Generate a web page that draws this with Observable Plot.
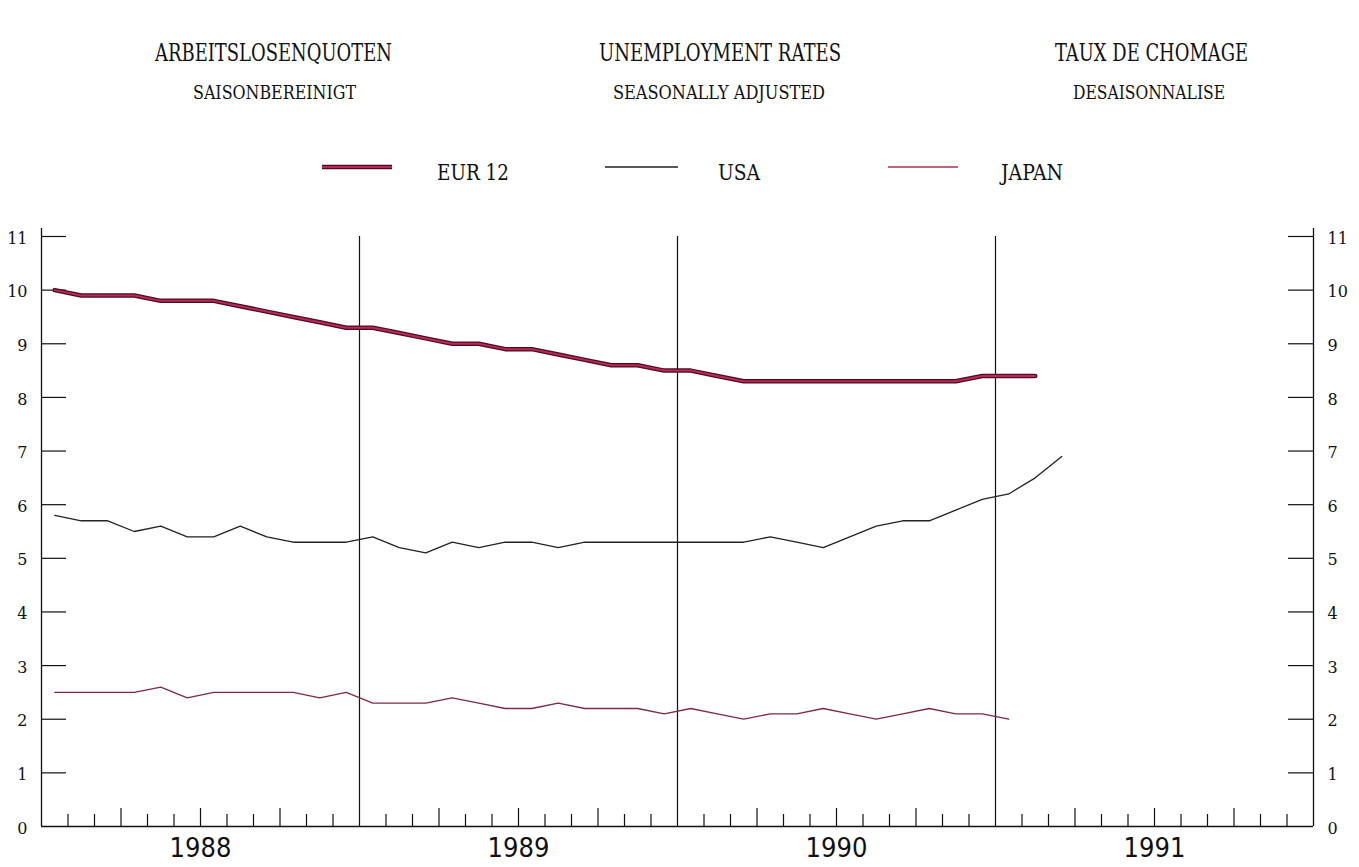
<!DOCTYPE html>
<html><head><meta charset="utf-8">
<script src="https://cdn.jsdelivr.net/npm/d3@7"></script>
<script src="https://cdn.jsdelivr.net/npm/@observablehq/plot@0.6"></script>
<style>body{margin:0;background:#fff} svg{display:block}</style>
</head><body><div id="chart"></div>
<script>
// ---- data (monthly, seasonally adjusted unemployment rates, %) ----
const startYear = 1988;
const years = [1988, 1989, 1990, 1991];
const yTicks = [0, 1, 2, 3, 4, 5, 6, 7, 8, 9, 10, 11];
const seriesNames = ["EUR 12", "USA", "JAPAN"];
const titles = ["ARBEITSLOSENQUOTEN", "UNEMPLOYMENT RATES", "TAUX DE CHOMAGE"];
const subtitles = ["SAISONBEREINIGT", "SEASONALLY ADJUSTED", "DESAISONNALISE"];
// Jan 1988 ... Feb 1991
const eur12 = [10.0, 9.9, 9.9, 9.9, 9.8, 9.8, 9.8, 9.7, 9.6, 9.5, 9.4, 9.3,
               9.3, 9.2, 9.1, 9.0, 9.0, 8.9, 8.9, 8.8, 8.7, 8.6, 8.6, 8.5,
               8.5, 8.4, 8.3, 8.3, 8.3, 8.3, 8.3, 8.3, 8.3, 8.3, 8.3, 8.4,
               8.4, 8.4];
// Jan 1988 ... Mar 1991
const usa = [5.8, 5.7, 5.7, 5.5, 5.6, 5.4, 5.4, 5.6, 5.4, 5.3, 5.3, 5.3,
             5.4, 5.2, 5.1, 5.3, 5.2, 5.3, 5.3, 5.2, 5.3, 5.3, 5.3, 5.3,
             5.3, 5.3, 5.3, 5.4, 5.3, 5.2, 5.4, 5.6, 5.7, 5.7, 5.9, 6.1,
             6.2, 6.5, 6.9];
// Jan 1988 ... Jan 1991
const japan = [2.5, 2.5, 2.5, 2.5, 2.6, 2.4, 2.5, 2.5, 2.5, 2.5, 2.4, 2.5,
               2.3, 2.3, 2.3, 2.4, 2.3, 2.2, 2.2, 2.3, 2.2, 2.2, 2.2, 2.1,
               2.2, 2.1, 2.0, 2.1, 2.1, 2.2, 2.1, 2.0, 2.1, 2.2, 2.1, 2.1,
               2.0];

// ---- derived tables ----
const toRows = vals => vals.map((v, i) => ({t: startYear + (i + 0.5) / 12, v}));
const nMonths = years.length * 12;
const monthIdx = d3.range(1, nMonths).filter(i => i % 12 !== 0);
const shortTicks = monthIdx.filter(i => i % 3 !== 0).map(i => startYear + i / 12);
const longTicks = monthIdx.filter(i => i % 3 === 0).map(i => startYear + i / 12);
const xDomain = [startYear, startYear + years.length];

const W = 1359, H = 867;
const mL = 41, mR = 46, mT = 236, mB = 41;
const plotW = W - mL - mR, plotH = H - mT - mB;

const eurDark = "#4d0c22", eurLight = "#b82a55";
const usaCol = "#222222", japCol = "#7d2b44";
const ink = "#111111";

const plot = Plot.plot({
  width: W, height: H,
  marginLeft: mL, marginRight: mR, marginTop: mT, marginBottom: mB,
  x: {domain: xDomain, axis: null},
  y: {domain: [0, 11], axis: null},
  style: {background: "transparent", fontFamily: "DejaVu Serif", color: ink},
  marks: [
    Plot.ruleX(xDomain, {y1: 0, y2: 11.15, stroke: ink, strokeWidth: 1.3}),
    Plot.ruleX(years.slice(1), {y1: 0, y2: 11, stroke: ink, strokeWidth: 1.2}),
    Plot.ruleY([0], {stroke: ink, strokeWidth: 1.3}),
    Plot.tickX(shortTicks, {x: d => d, insetTop: plotH - 12, stroke: ink, strokeWidth: 1.2}),
    Plot.tickX(longTicks, {x: d => d, insetTop: plotH - 18, stroke: ink, strokeWidth: 1.2}),
    Plot.tickY(yTicks.slice(1), {y: d => d, insetRight: plotW - 25, stroke: ink, strokeWidth: 1.2}),
    Plot.tickY(yTicks.slice(1), {y: d => d, insetLeft: plotW - 25, stroke: ink, strokeWidth: 1.2}),
    Plot.axisY(yTicks, {anchor: "left", tickSize: 0, tickPadding: 14, fontSize: 16, label: null, dy: 2,
      tickFormat: d => String(d), fontFamily: "DejaVu Serif"}),
    Plot.axisY(yTicks, {anchor: "right", tickSize: 0, tickPadding: 14, fontSize: 16, label: null, dy: 2,
      tickFormat: d => String(d), fontFamily: "DejaVu Serif"}),
    Plot.axisX(years.map(y => y + 0.5), {anchor: "bottom", tickSize: 0, tickPadding: 11, label: null,
      tickFormat: d => String(Math.floor(d)), fontSize: 27, fontFamily: "'Liberation Sans Narrow', 'DejaVu Sans Condensed', sans-serif"}),
    Plot.line(toRows(usa), {x: "t", y: "v", stroke: usaCol, strokeWidth: 1.3}),
    Plot.line(toRows(japan), {x: "t", y: "v", stroke: japCol, strokeWidth: 1.3}),
    Plot.line(toRows(eur12), {x: "t", y: "v", stroke: eurDark, strokeWidth: 4.5}),
    Plot.line(toRows(eur12), {x: "t", y: "v", stroke: eurLight, strokeWidth: 2})
  ]
});
document.getElementById("chart").appendChild(plot);

// ---- titles and legend inside the SVG ----
const svg = d3.select(plot);
const serif = "'DejaVu Serif Condensed', 'DejaVu Serif', serif";
function addText(txt, x, y, size, len, anchor) {
  svg.append("text").text(txt)
    .attr("x", x).attr("y", y)
    .attr("text-anchor", anchor)
    .attr("font-family", serif).attr("font-size", size)
    .attr("fill", ink)
    .attr("textLength", len).attr("lengthAdjust", "spacingAndGlyphs");
}
const titleX = [273.5, 720, 1151.5];
const titleLen = [237, 242, 193];
const subX = [274.5, 719, 1149];
const subLen = [163, 212, 152];
titles.forEach((t, i) => addText(t, titleX[i], 61, 24, titleLen[i], "middle"));
subtitles.forEach((t, i) => addText(t, subX[i], 99, 19, subLen[i], "middle"));

const legX = [[322, 392], [605, 678], [888, 958]];
const legTextX = [437, 718, 1001];
const legTextLen = [72, 42, 62];
const legY = 167;
svg.append("line").attr("x1", legX[0][0]).attr("x2", legX[0][1]).attr("y1", legY).attr("y2", legY)
  .attr("stroke", eurDark).attr("stroke-width", 4.5);
svg.append("line").attr("x1", legX[0][0]).attr("x2", legX[0][1]).attr("y1", legY).attr("y2", legY)
  .attr("stroke", eurLight).attr("stroke-width", 2);
svg.append("line").attr("x1", legX[1][0]).attr("x2", legX[1][1]).attr("y1", legY).attr("y2", legY)
  .attr("stroke", usaCol).attr("stroke-width", 1.3);
svg.append("line").attr("x1", legX[2][0]).attr("x2", legX[2][1]).attr("y1", legY).attr("y2", legY)
  .attr("stroke", "#a8304f").attr("stroke-width", 1.3);
seriesNames.forEach((t, i) => addText(t, legTextX[i], 180, 23, legTextLen[i], "start"));
</script>
</body></html>
